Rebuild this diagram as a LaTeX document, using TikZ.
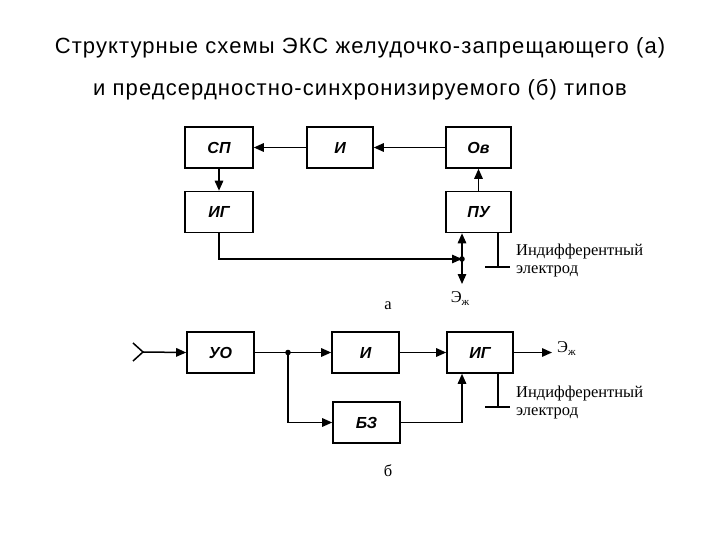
\documentclass[tikz,border=0pt]{standalone}
\usepackage{fontspec}
\setmainfont{Liberation Serif}
\setsansfont{Liberation Sans}
\newfontfamily\ttlfont[LetterSpace=5]{Liberation Sans}
\usetikzlibrary{arrows.meta}
\begin{document}
\begin{tikzpicture}[x=1pt,y=-1pt,
  blk/.style={draw,line width=1.6pt,inner sep=0pt,font=\sffamily\bfseries\itshape\fontsize{16}{16}\selectfont},
  ln/.style={line width=1.5pt},
  arr/.style={line width=1.5pt,-{Triangle[length=10pt,width=8.5pt]}},
  lbl/.style={font=\fontsize{16.5}{17}\selectfont,inner sep=0pt,anchor=base west},
  ttl/.style={font=\ttlfont\fontsize{22}{22}\selectfont,inner sep=0pt,anchor=base}]
\useasboundingbox (0,0) rectangle (720,540);
% title
\node[ttl] (t1) at (360,54) {Структурные схемы ЭКС желудочко-запрещающего (а)};
\node[ttl] (t2) at (360,96) {и предсердностно-синхронизируемого (б) типов};
% diagram a
\node[blk,minimum width=68pt,minimum height=41pt] (sp) at (219,147.5) {СП};
\node[blk,minimum width=66pt,minimum height=41pt] (ia) at (340,147.5) {И};
\node[blk,minimum width=65pt,minimum height=41pt] (ov) at (478.5,147.5) {Ов};
\node[blk,minimum width=68pt,minimum height=41pt] (iga) at (219,212) {ИГ};
\node[blk,minimum width=65pt,minimum height=41pt] (pu) at (478.5,212) {ПУ};
\draw[arr] (ov.west) -- (ia.east);
\draw[arr] (ia.west) -- (sp.east);
\draw[arr] (sp.south) -- (iga.north);
\draw[arr] (pu.north) -- (ov.south);
\coordinate (da) at (462,259);
\coordinate (ea) at (462,284);
\fill (da) circle (2.8pt);
\draw[arr] (iga.south) |- (da);
\draw[arr] (da) -- (pu.south -| da);
\draw[arr] (da) -- (ea);
\node[lbl,anchor=base] (eza) at (460,302) {Э\raisebox{-0.4ex}{\fontsize{11}{11}\selectfont ж}};
\coordinate (ga) at (498,267);
\draw[ln] (pu.south -| ga) -- (ga);
\coordinate (gal) at (485,267);
\coordinate (gar) at (510,267);
\draw[ln] (gal) -- (gar);
\node[lbl] (ind1) at (516,255) {Индифферентный};
\node[lbl] (el1) at (516,273) {электрод};
\node[lbl,anchor=base] (la) at (388,309) {а};
% diagram b
\coordinate (in) at (143,352);
\coordinate (ch1) at (133,343);
\coordinate (ch2) at (133,361);
\draw[ln] (ch1) -- (in) -- (ch2);
\node[blk,minimum width=67pt,minimum height=41pt] (uo) at (220.5,352.5) {УО};
\node[blk,minimum width=67pt,minimum height=41pt] (ib) at (365.5,352.5) {И};
\node[blk,minimum width=66pt,minimum height=41pt] (igb) at (480,352.5) {ИГ};
\node[blk,minimum width=67pt,minimum height=41pt] (bz) at (366.5,422.5) {БЗ};
\draw[arr] (in) -- (uo.west);
\coordinate (db) at (288,352.5);
\fill (db) circle (2.8pt);
\draw[ln] (uo.east) -- (db);
\draw[arr] (db) -- (ib.west);
\draw[arr] (db) |- (bz.west);
\draw[arr] (ib.east) -- (igb.west);
\coordinate (bzt) at (462,373);
\draw[arr] (bz.east) -| (igb.south -| bzt);
\coordinate (eb) at (552,352.5);
\draw[arr] (igb.east) -- (eb);
\node[lbl] (ezb) at (557,352) {Э\raisebox{-0.4ex}{\fontsize{11}{11}\selectfont ж}};
\coordinate (gb) at (498,407);
\draw[ln] (igb.south -| gb) -- (gb);
\coordinate (gbl) at (485,407);
\coordinate (gbr) at (510,407);
\draw[ln] (gbl) -- (gbr);
\node[lbl] (ind2) at (516,397) {Индифферентный};
\node[lbl] (el2) at (516,415) {электрод};
\node[lbl,anchor=base] (lb) at (388,476) {б};
\end{tikzpicture}
\end{document}
